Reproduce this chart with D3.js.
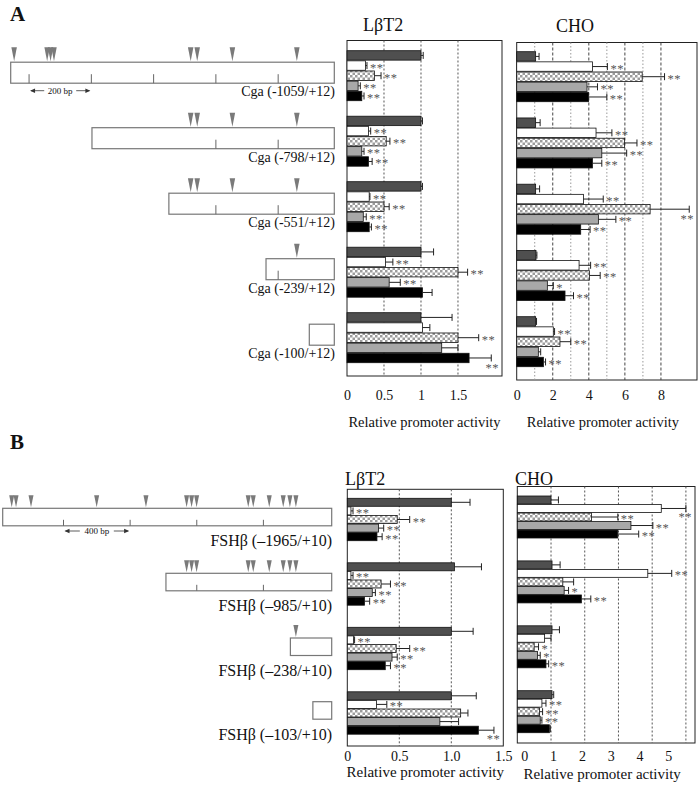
<!DOCTYPE html>
<html><head><meta charset="utf-8">
<script src="https://cdn.jsdelivr.net/npm/d3@7"></script>
<style>
body{margin:0;background:#fff}
svg{display:block}
text{font-family:"Liberation Serif","Times New Roman",serif;fill:#111}
</style>
</head><body>
<svg id="c" width="700" height="788"></svg>
<script>
// ---------------- DATA ----------------
const seriesKeys = ["s1", "s2", "s3", "s4", "s5"];

// Panel A: Cga promoter constructs
const cgaLabels = ["Cga (-1059/+12)", "Cga (-798/+12)", "Cga (-551/+12)", "Cga (-239/+12)", "Cga (-100/+12)"];
const cgaStarts = [-1059, -798, -551, -239, -100];
const cgaEnd = 12;
const cgaSites = [-1048, -942, -931, -920, -481, -460, -347, -140];
const cgaTicks = [[-1000, -800, -600, -400, -200], [-400, -200], [-400, -200], [-200], []];

const aLbt2Values = [
  [1.0, 0.25, 0.37, 0.15, 0.2],
  [1.0, 0.29, 0.53, 0.2, 0.29],
  [1.0, 0.3, 0.5, 0.22, 0.3],
  [1.0, 0.52, 1.5, 0.57, 1.02],
  [1.0, 1.02, 1.5, 1.28, 1.65]
];
const aLbt2Errors = [
  [0.03, 0.02, 0.09, 0.03, 0.03],
  [0.02, 0.03, 0.05, 0.03, 0.05],
  [0.02, 0.01, 0.07, 0.04, 0.03],
  [0.17, 0.1, 0.13, 0.15, 0.13],
  [0.42, 0.1, 0.28, 0.22, 0.3]
];
const aLbt2Sig = [
  ["", "**", "**", "**", "**"],
  ["", "**", "**", "**", "**"],
  ["", "**", "**", "**", "**"],
  ["", "**", "**", "**", ""],
  ["", "", "**", "", "**"]
];

const aChoValues = [
  [1.05, 4.2, 6.96, 3.9, 3.98],
  [1.05, 4.4, 5.98, 4.72, 4.2],
  [1.05, 3.7, 7.4, 4.53, 3.55],
  [1.07, 3.46, 4.03, 1.7, 2.68],
  [1.05, 2.03, 2.4, 1.2, 1.48]
];
const aChoErrors = [
  [0.19, 0.83, 1.24, 0.58, 1.02],
  [0.25, 0.88, 0.69, 1.38, 0.52],
  [0.22, 1.1, 2.17, 0.97, 0.52],
  [0.05, 0.64, 0.6, 0.33, 0.47],
  [0.05, 0.07, 0.6, 0.13, 0.12]
];
const aChoSig = [
  ["", "**", "**", "**", "**"],
  ["", "**", "**", "**", "**"],
  ["", "**", "**", "**", "**"],
  ["", "**", "**", "*", "**"],
  ["", "**", "**", "", "**"]
];

// Panel B: FSHβ promoter constructs
const fshLabels = ["FSHβ (–1965/+10)", "FSHβ (–985/+10)", "FSHβ (–238/+10)", "FSHβ (–103/+10)"];
const fshStarts = [-1965, -985, -238, -103];
const fshEnd = 10;
const fshSites = [-1911, -1885, -1795, -1401, -1105, -861, -831, -801, -491, -461, -365, -281, -241, -205];
const fshTicks = [[-1600, -1200, -800, -400], [-800, -400], [], []];

const bLbt2Values = [
  [1.0, 0.035, 0.48, 0.3, 0.285],
  [1.03, 0.035, 0.325, 0.24, 0.165],
  [1.0, 0.06, 0.47, 0.43, 0.365],
  [1.0, 0.28, 1.09, 0.89, 1.26]
];
const bLbt2Errors = [
  [0.18, 0.02, 0.12, 0.05, 0.05],
  [0.26, 0.02, 0.09, 0.03, 0.05],
  [0.21, 0.01, 0.13, 0.05, 0.05],
  [0.24, 0.1, 0.07, 0.18, 0.15]
];
const bLbt2Sig = [
  ["", "**", "**", "**", "**"],
  ["", "**", "**", "**", "**"],
  ["", "**", "**", "**", "**"],
  ["", "**", "", "", "**"]
];

const bChoValues = [
  [1.0, 4.27, 2.2, 3.37, 2.98],
  [1.03, 3.87, 1.35, 1.39, 1.9],
  [1.03, 0.81, 0.5, 0.6, 0.85],
  [1.03, 0.73, 0.66, 0.68, 0.95]
];
const bChoErrors = [
  [0.22, 0.73, 0.78, 0.65, 0.62],
  [0.24, 0.71, 0.32, 0.13, 0.28],
  [0.22, 0.19, 0.13, 0.08, 0.08],
  [0.05, 0.12, 0.09, 0.05, 0.03]
];
const bChoSig = [
  ["", "**", "**", "**", "**"],
  ["", "**", "", "*", "**"],
  ["", "", "*", "*", "**"],
  ["", "**", "**", "**", ""]
];

const aLbt2Ticks = [0, 0.5, 1, 1.5];
const aChoTicks = [0, 2, 4, 6, 8];
const bLbt2Ticks = [0, 0.5, 1.0, 1.5];
const bChoTicks = [0, 1, 2, 3, 4, 5];
const axisTitle = "Relative promoter activity";

// ---------------- DRAWING ----------------
const svg = d3.select("#c");
const defs = svg.append("defs");
const pat = defs.append("pattern").attr("id", "check")
  .attr("width", 5).attr("height", 5).attr("patternUnits", "userSpaceOnUse");
pat.append("rect").attr("width", 5).attr("height", 5).attr("fill", "#fff");
pat.append("rect").attr("width", 2.5).attr("height", 2.5).attr("fill", "#9c9c9c");
pat.append("rect").attr("x", 2.5).attr("y", 2.5).attr("width", 2.5).attr("height", 2.5).attr("fill", "#9c9c9c");

const fills = { s1: "#4f4f4f", s2: "#ffffff", s3: "url(#check)", s4: "#a8a8a8", s5: "#000000" };

function bandFor(n, top, step, block) {
  return d3.scaleBand().domain(d3.range(n))
    .range([top, top + (n - 1) * step + block])
    .paddingInner(1 - block / step).paddingOuter(0);
}

function drawChart(cfg) {
  const g = svg.append("g");
  const x = d3.scaleLinear().domain(cfg.domain).range([cfg.x0, cfg.x1]);
  const n = cfg.values.length;
  const y = bandFor(n, cfg.top, cfg.step, cfg.block);
  const yi = d3.scaleBand().domain(seriesKeys).range([0, y.bandwidth()]).paddingInner(0.07);

  g.append("rect").attr("x", cfg.x0).attr("y", cfg.y0)
    .attr("width", cfg.x1 - cfg.x0).attr("height", cfg.y1 - cfg.y0)
    .attr("fill", "#fff").attr("stroke", "#222").attr("stroke-width", 1);

  g.selectAll("line.grid").data(cfg.grid).join("line")
    .attr("x1", d => x(d)).attr("x2", d => x(d))
    .attr("y1", cfg.y0).attr("y2", cfg.y1)
    .attr("stroke", d => cfg.gridStyle(d).c)
    .attr("stroke-dasharray", d => cfg.gridStyle(d).dash)
    .attr("stroke-width", 1);

  const rows = [];
  cfg.values.forEach((row, i) => row.forEach((v, j) => rows.push({
    i, k: seriesKeys[j], v, e: cfg.errors[i][j], s: cfg.sig[i][j]
  })));

  g.append("g").selectAll("rect").data(rows).join("rect")
    .attr("x", x(0))
    .attr("y", d => y(d.i) + yi(d.k))
    .attr("width", d => x(d.v) - x(0))
    .attr("height", yi.bandwidth())
    .attr("fill", d => fills[d.k])
    .attr("stroke", "#111").attr("stroke-width", 0.8);

  const eg = g.append("g").attr("stroke", "#222").attr("stroke-width", 1);
  rows.forEach(d => {
    const yc = y(d.i) + yi(d.k) + yi.bandwidth() / 2;
    eg.append("line").attr("x1", x(d.v)).attr("x2", x(d.v + d.e)).attr("y1", yc).attr("y2", yc);
    eg.append("line").attr("x1", x(d.v + d.e)).attr("x2", x(d.v + d.e)).attr("y1", yc - 3.5).attr("y2", yc + 3.5);
  });

  rows.filter(d => d.s).forEach(d => {
    const yb = y(d.i) + yi(d.k);
    const yc = yb + yi.bandwidth() / 2;
    const w = d.s.length * 6.5;
    let tx = x(d.v + d.e) + 3, anchor = "start", ty = yc + 6;
    if (tx + w > cfg.x1 - 1) {
      tx = cfg.x1 - 3; anchor = "end"; ty = yb + yi.bandwidth() + 9;
    }
    g.append("text").attr("x", tx).attr("y", ty).attr("text-anchor", anchor)
      .attr("font-size", 12.5).attr("letter-spacing", 0.5).style("fill", "#555").text(d.s);
  });

  const lx = cfg.labelScale ? cfg.labelScale : x;
  const ax = d3.axisBottom(lx).tickValues(cfg.ticks).tickFormat(cfg.fmt).tickSize(0).tickPadding(0);
  const ag = g.append("g").attr("transform", `translate(0,${cfg.tickBase - 10})`).call(ax);
  ag.select(".domain").remove();
  ag.selectAll("text").attr("font-size", 14).style("font-family", '"Liberation Serif",serif').style("fill", "#111");

  g.append("text").attr("x", (cfg.x0 + cfg.x1) / 2 + (cfg.titleDx || 0)).attr("y", cfg.titleBase)
    .attr("text-anchor", "middle").attr("font-size", cfg.titleSize).text(axisTitle);

  g.append("text").attr("x", cfg.headX).attr("y", cfg.headY).attr("font-size", 18).text(cfg.head);
  return y;
}

function drawDiagram(cfg) {
  const g = svg.append("g");
  const x = d3.scaleLinear().domain(cfg.domain).range(cfg.range);
  cfg.starts.forEach((s, i) => {
    const top = cfg.groupTops[i] + cfg.rectDy;
    const bottom = top + cfg.rectH;
    g.append("rect").attr("x", x(s)).attr("y", top)
      .attr("width", x(cfg.end) - x(s)).attr("height", cfg.rectH)
      .attr("fill", "#fff").attr("stroke", "#777").attr("stroke-width", 1.2);
    cfg.ticks[i].forEach(t => {
      g.append("line").attr("x1", x(t)).attr("x2", x(t))
        .attr("y1", bottom - cfg.tickH).attr("y2", bottom)
        .attr("stroke", "#666").attr("stroke-width", 1);
    });
    cfg.sites.filter(p => p >= s).forEach(p => {
      const cx = x(p), tip = top - 1, hw = cfg.triW / 2;
      g.append("path").attr("d", `M${cx - hw},${tip - cfg.triH}L${cx + hw},${tip - cfg.triH}L${cx},${tip}Z`)
        .attr("fill", "#7a7a7a");
    });
    g.append("text").attr("x", cfg.labelX).attr("y", cfg.groupTops[i] + cfg.labelDy)
      .attr("text-anchor", "end").attr("font-size", cfg.labelSize).text(cfg.labels[i]);
  });
  const sb = cfg.scaleBar;
  const xa = x(sb.from), xb = x(sb.to), yy = sb.y;
  const tw = sb.textW;
  const mid = (xa + xb) / 2;
  const sg = g.append("g").attr("stroke", "#333").attr("stroke-width", 0.8);
  sg.append("line").attr("x1", xa + 2).attr("x2", mid - tw / 2 - 3).attr("y1", yy).attr("y2", yy);
  sg.append("line").attr("x1", mid + tw / 2 + 3).attr("x2", xb - 2).attr("y1", yy).attr("y2", yy);
  g.append("path").attr("d", `M${xa + 1},${yy}l5,-2.3v4.6Z`).attr("fill", "#333");
  g.append("path").attr("d", `M${xb - 1},${yy}l-5,-2.3v4.6Z`).attr("fill", "#333");
  g.append("text").attr("x", mid).attr("y", yy + 3).attr("text-anchor", "middle")
    .attr("font-size", 9).text(sb.text);
}

svg.append("text").attr("x", 10).attr("y", 21).attr("font-size", 21).attr("font-weight", "bold").text("A");
svg.append("text").attr("x", 10).attr("y", 449).attr("font-size", 21).attr("font-weight", "bold").text("B");

const evenOdd = d => (d % 2 === 0) ? { c: "#444", dash: "3,2" } : { c: "#999", dash: "1.5,2" };
const plain = d => ({ c: "#555", dash: "2,2" });

drawChart({
  values: aLbt2Values, errors: aLbt2Errors, sig: aLbt2Sig,
  domain: [0, 2.095], x0: 347, x1: 502, y0: 40.5, y1: 376,
  top: 50.7, step: 65.5, block: 50,
  grid: [0.5, 1, 1.5], gridStyle: plain,
  ticks: aLbt2Ticks, fmt: d3.format(""), tickBase: 400,
  titleBase: 427, titleSize: 14.5, titleDx: 0,
  head: "LβT2", headX: 363, headY: 31
});
drawChart({
  values: aChoValues, errors: aChoErrors, sig: aChoSig,
  domain: [0, 10], x0: 516.7, x1: 697, y0: 42.5, y1: 380,
  top: 51.7, step: 66.25, block: 50,
  grid: [1, 2, 3, 4, 5, 6, 7, 8], gridStyle: evenOdd,
  ticks: aChoTicks, fmt: d3.format(""), tickBase: 400,
  titleBase: 427, titleSize: 14.5, titleDx: -4,
  head: "CHO", headX: 556, headY: 32
});

drawChart({
  values: bLbt2Values, errors: bLbt2Errors, sig: bLbt2Sig,
  domain: [0, 1.5], x0: 347.3, x1: 503.3, y0: 489.3, y1: 746,
  top: 498.3, step: 64.5, block: 42.4,
  grid: [0.5, 1], gridStyle: plain,
  ticks: bLbt2Ticks, fmt: d => d === 0 ? "0" : d3.format(".1f")(d), tickBase: 761,
  titleBase: 777, titleSize: 15, titleDx: 0,
  head: "LβT2", headX: 345, headY: 485
});
drawChart({
  values: bChoValues, errors: bChoErrors, sig: bChoSig,
  domain: [0, 5.27], x0: 517.3, x1: 695, y0: 486.5, y1: 743,
  top: 496, step: 64.9, block: 42,
  grid: [1, 2, 3, 4, 5], gridStyle: plain,
  ticks: bChoTicks, fmt: d3.format(""), tickBase: 761,
  labelScale: d3.scaleLinear().domain([0, 5]).range([524.3, 668.3]),
  titleBase: 779, titleSize: 15, titleDx: -4,
  head: "CHO", headX: 515, headY: 485
});

drawDiagram({
  domain: [-1059, -100, 12], range: [10.7, 309.3, 334.3],
  starts: cgaStarts, end: cgaEnd, sites: cgaSites, ticks: cgaTicks, labels: cgaLabels,
  groupTops: [50.7, 116.2, 181.7, 247.2, 312.7],
  rectDy: 11.5, rectH: 21, tickH: 9, triW: 5.5, triH: 14,
  labelX: 335, labelDy: 45.5, labelSize: 14,
  scaleBar: { from: -1000, to: -800, y: 90.7, text: "200 bp", textW: 26 }
});
drawDiagram({
  domain: [-1965, 10], range: [2.7, 331.7],
  starts: fshStarts, end: fshEnd, sites: fshSites, ticks: fshTicks, labels: fshLabels,
  groupTops: [498.3, 563.3, 628, 691.7],
  rectDy: 10, rectH: 17.5, tickH: 6, triW: 5, triH: 12,
  labelX: 332, labelDy: 48, labelSize: 16,
  scaleBar: { from: -1600, to: -1200, y: 531, text: "400 bp", textW: 28 }
});
</script>
</body></html>
